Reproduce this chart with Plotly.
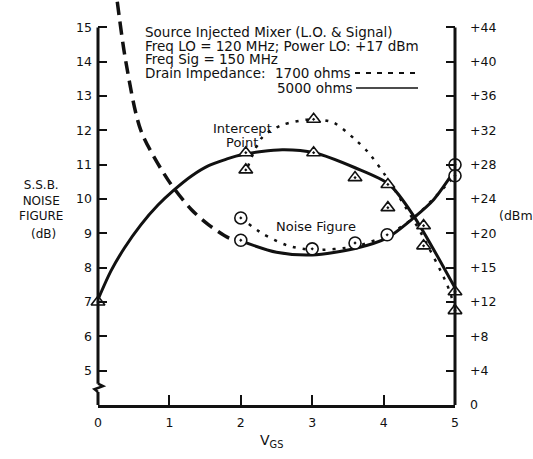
import plotly.graph_objects as go

# ---------------- data ----------------
vgs_tickvals = [0, 1, 2, 3, 4, 5]
nf_tickvals = [5, 6, 7, 8, 9, 10, 11, 12, 13, 14, 15]
dbm_tickvals = [0, 4, 8, 12, 16, 20, 24, 28, 32, 36, 40, 44]
dbm_ticktext = ["0", "+4", "+8", "+12", "+15", "+20", "+24", "+28", "+32", "+36", "+40", "+44"]

# Noise figure (dB, left axis)
nf_low_x = [0.27, 0.39, 0.60, 0.98, 1.31, 1.55, 1.83, 2.0]
nf_low_y = [15.75, 14.0, 12.0, 10.56, 9.69, 9.25, 8.87, 8.78]
nf_5000_x = [2.0, 2.5, 3.0, 3.6, 4.05, 4.42, 4.7, 5.0]
nf_5000_y = [8.78, 8.45, 8.37, 8.56, 8.87, 9.45, 9.98, 10.85]
nf_1700_x = [2.0, 2.3, 2.65, 3.0, 3.6, 4.05, 4.42, 4.75, 5.0]
nf_1700_y = [9.45, 9.0, 8.65, 8.52, 8.62, 8.95, 9.45, 10.12, 10.68]
nf_pts_x = [2.0, 2.0, 3.0, 3.6, 4.05, 5.0, 5.0]
nf_pts_y = [9.45, 8.8, 8.55, 8.72, 8.96, 11.0, 10.68]

# Intercept point (dBm, right axis)
ip_5000_x = [0, 0.18, 0.37, 0.60, 0.84, 1.07, 1.31, 1.55, 1.78, 2.02, 2.58, 3.03, 3.6, 4.08, 4.42, 5.0]
ip_5000_y = [12.3, 15.6, 18.3, 21.0, 23.3, 25.1, 26.7, 27.9, 28.6, 29.2, 29.75, 29.4, 27.65, 25.7, 22.05, 13.65]
ip_1700_x = [2.1, 2.3, 2.57, 3.0, 3.3, 3.62, 3.79, 4.02, 4.4, 4.54, 4.89, 5.0]
ip_1700_y = [27.8, 31.2, 32.6, 33.3, 32.9, 30.8, 29.4, 26.8, 21.8, 19.8, 14.0, 11.3]
ip_pts_5000_x = [0, 2.07, 3.02, 3.6, 4.06, 4.56, 5.0]
ip_pts_5000_y = [12.0, 29.4, 29.4, 26.5, 25.7, 20.9, 13.2]
ip_pts_1700_x = [2.07, 3.02, 4.06, 4.56, 5.0]
ip_pts_1700_y = [27.4, 33.3, 23.0, 18.55, 11.0]

# ---------------- figure ----------------
W, H = 533, 459
L, R, T, B = 98, 78, 0, 54
PW, PH = W - L - R, H - T - B
Y0, Y1 = 4, 15.8
FONT = "DejaVu Sans"
BLACK = "#111111"


def px(x):
    return (x - L) / PW


def py(y):
    return (H - B - y) / PH


def pv(v):
    return (v - Y0) / (Y1 - Y0)


fig = go.Figure()

fig.add_trace(go.Scatter(x=nf_low_x, y=nf_low_y, mode="lines",
                         line=dict(color=BLACK, width=3.5, dash="13px,7px", shape="spline", smoothing=0.8),
                         showlegend=False, hoverinfo="skip"))
fig.add_trace(go.Scatter(x=nf_1700_x, y=nf_1700_y, mode="lines",
                         line=dict(color=BLACK, width=2.5, dash="3px,7px", shape="spline", smoothing=0.8),
                         showlegend=False, hoverinfo="skip"))
fig.add_trace(go.Scatter(x=nf_5000_x, y=nf_5000_y, mode="lines",
                         line=dict(color=BLACK, width=3, shape="spline", smoothing=0.8),
                         showlegend=False, hoverinfo="skip"))
fig.add_trace(go.Scatter(x=ip_1700_x, y=ip_1700_y, yaxis="y2", mode="lines",
                         line=dict(color=BLACK, width=2.5, dash="3px,7px", shape="spline", smoothing=0.8),
                         showlegend=False, hoverinfo="skip"))
fig.add_trace(go.Scatter(x=ip_5000_x, y=ip_5000_y, yaxis="y2", mode="lines",
                         line=dict(color=BLACK, width=3, shape="spline", smoothing=0.8),
                         showlegend=False, hoverinfo="skip"))

fig.add_trace(go.Scatter(x=nf_pts_x, y=nf_pts_y, mode="markers", cliponaxis=False,
                         marker=dict(symbol="circle-dot", size=12, color="white",
                                     line=dict(color=BLACK, width=1.6)),
                         showlegend=False, hoverinfo="skip"))
fig.add_trace(go.Scatter(x=ip_pts_5000_x + ip_pts_1700_x, y=ip_pts_5000_y + ip_pts_1700_y,
                         yaxis="y2", mode="markers", cliponaxis=False,
                         marker=dict(symbol="triangle-up-dot", size=12, color="white",
                                     line=dict(color=BLACK, width=1.6)),
                         showlegend=False, hoverinfo="skip"))

zx = 0.07 / 5
shapes = [
    # left axis (with break)
    dict(type="line", xref="paper", yref="paper", x0=0, x1=0, y0=pv(15), y1=pv(4.62),
         line=dict(color=BLACK, width=3), layer="above"),
    dict(type="path", xref="paper", yref="paper",
         path=f"M0,{pv(4.62)} L{zx},{pv(4.55)} L{-zx * 0.7},{pv(4.46)} L0,{pv(4.38)}",
         line=dict(color=BLACK, width=2.5), layer="above"),
    dict(type="line", xref="paper", yref="paper", x0=0, x1=0, y0=pv(4.38), y1=0,
         line=dict(color=BLACK, width=3), layer="above"),
    # right axis
    dict(type="line", xref="paper", yref="paper", x0=1, x1=1, y0=pv(15), y1=0,
         line=dict(color=BLACK, width=3), layer="above"),
    # legend samples
    dict(type="line", xref="paper", yref="paper", x0=px(355), x1=px(416), y0=py(73), y1=py(73),
         line=dict(color=BLACK, width=2, dash="5px,6px")),
    dict(type="line", xref="paper", yref="paper", x0=px(356), x1=px(418), y0=py(88), y1=py(88),
         line=dict(color=BLACK, width=1.5)),
]

tfont = dict(family=FONT, size=12.5, color=BLACK)
ann = []


def add_text(text, x, y, xanchor="left", size=13.5):
    ann.append(dict(text=text, x=px(x), y=py(y), xref="paper", yref="paper", showarrow=False,
                    xanchor=xanchor, yanchor="middle", font=dict(family=FONT, size=size, color=BLACK)))


add_text("Source Injected Mixer (L.O. & Signal)", 143, 32)
add_text("Freq LO = 120 MHz; Power LO: +17 dBm", 143, 45.5)
add_text("Freq Sig = 150 MHz", 143, 59)
add_text("Drain Impedance:", 143, 73)
add_text("1700 ohms", 273, 73)
add_text("5000 ohms", 275, 88)
add_text("Intercept", 242, 128, "center", 13)
add_text("Point", 242, 142, "center", 13)
add_text("Noise Figure", 316, 226, "center", 13)
add_text("S.S.B.<br>NOISE<br>FIGURE", 41, 200, "center", 12)
add_text("(dB)", 43, 234, "center", 12)
add_text("(dBm)", 497, 215, "left", 12.5)
add_text("V<sub>GS</sub>", 271, 441, "center", 14)

fig.update_layout(
    width=W, height=H,
    margin=dict(l=L, r=R, t=T, b=B),
    paper_bgcolor="white", plot_bgcolor="white",
    font=dict(family=FONT, size=12.5, color=BLACK),
    xaxis=dict(range=[0, 5], tickvals=vgs_tickvals, ticks="inside", ticklen=10, tickwidth=2,
               tickcolor=BLACK, showline=True, linewidth=3, linecolor=BLACK, showgrid=False,
               zeroline=False, tickfont=tfont, ticklabelstandoff=4),
    yaxis=dict(range=[Y0, Y1], tickvals=nf_tickvals, ticks="inside", ticklen=9, tickwidth=2,
               tickcolor=BLACK, showline=False, showgrid=False, zeroline=False, tickfont=tfont,
               ticklabelstandoff=5),
    yaxis2=dict(range=[0, (Y1 - Y0) * 4], overlaying="y", side="right", anchor="x",
                tickvals=dbm_tickvals, ticktext=dbm_ticktext, ticks="inside", ticklen=9, tickwidth=2,
                tickcolor=BLACK, showline=False, showgrid=False, zeroline=False, tickfont=tfont,
                ticklabelstandoff=14),
    shapes=shapes,
    annotations=ann,
)

fig.write_html("out.html", config={"displayModeBar": False},
               post_script="document.body.style.margin='0px';")
